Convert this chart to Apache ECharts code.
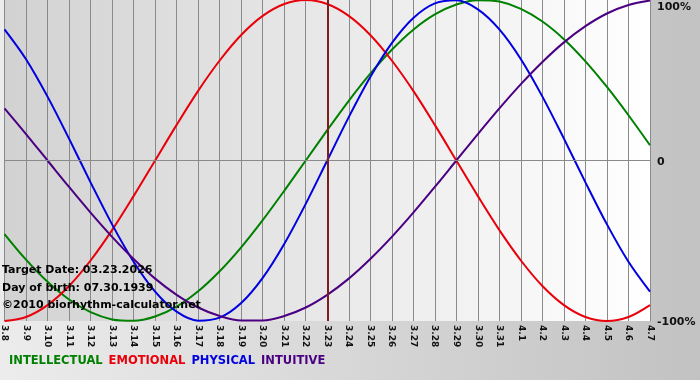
<!DOCTYPE html>
<html>
<head>
<meta charset="utf-8">
<script src="https://cdn.jsdelivr.net/npm/echarts@6/dist/echarts.min.js"></script>
<style>
html,body{margin:0;padding:0;}
#chart{width:700px;height:380px;}
</style>
</head>
<body>
<div id="chart"></div>
<script>
const days = ['3.8','3.9','3.10','3.11','3.12','3.13','3.14','3.15','3.16','3.17','3.18','3.19','3.20','3.21','3.22','3.23','3.24','3.25','3.26','3.27','3.28','3.29','3.30','3.31','4.1','4.2','4.3','4.4','4.5','4.6','4.7'];
const intellectual = [-0.458,-0.618,-0.756,-0.866,-0.945,-0.990,-0.999,-0.972,-0.910,-0.815,-0.690,-0.541,-0.372,-0.189,0,0.189,0.372,0.541,0.690,0.815,0.910,0.972,0.999,0.990,0.945,0.866,0.756,0.618,0.458,0.282,0.095];
const emotional = [-1,-0.975,-0.901,-0.782,-0.623,-0.434,-0.222,0,0.222,0.434,0.623,0.782,0.901,0.975,1,0.975,0.901,0.782,0.623,0.434,0.222,0,-0.222,-0.434,-0.623,-0.782,-0.901,-0.975,-1,-0.975,-0.901];
const physical = [0.817,0.631,0.398,0.136,-0.136,-0.398,-0.631,-0.817,-0.942,-0.998,-0.979,-0.888,-0.731,-0.520,-0.270,0,0.270,0.520,0.731,0.888,0.979,0.998,0.942,0.817,0.631,0.398,0.136,-0.136,-0.398,-0.631,-0.817];
const intuitive = [0.325,0.165,0,-0.165,-0.325,-0.476,-0.614,-0.736,-0.837,-0.916,-0.969,-0.997,-0.997,-0.969,-0.916,-0.837,-0.736,-0.614,-0.476,-0.325,-0.165,0,0.165,0.325,0.476,0.614,0.736,0.837,0.916,0.969,0.997];
const targetDay = '3.23';
const infoLines = ['Target Date: 03.23.2026', 'Day of birth: 07.30.1939', '\u00a92010 biorhythm-calculator.net'];
const yLabels = {'1':'100%','0':'0','-1':'-100%'};

const chart = echarts.init(document.getElementById('chart'));
const font = '"DejaVu Sans", Verdana, sans-serif';
function mk(name, data, color) {
  return {
    name: name, type: 'line', data: data, smooth: 0.33, showSymbol: false,
    lineStyle: {color: color, width: 2}, itemStyle: {color: color}
  };
}
const series = [
  mk('INTELLECTUAL', intellectual, '#008000'),
  mk('EMOTIONAL', emotional, '#e8000b'),
  mk('PHYSICAL', physical, '#0000e0'),
  mk('INTUITIVE', intuitive, '#4b0082')
];
series[0].markLine = {
  symbol: 'none', silent: true, label: {show: false}, animation: false,
  data: [
    {yAxis: 0, lineStyle: {color: '#8a8a8a', width: 1, type: 'solid'}},
    {xAxis: targetDay, lineStyle: {color: '#7a1e1e', width: 2, type: 'solid'}}
  ]
};
chart.setOption({
  animation: false,
  backgroundColor: new echarts.graphic.LinearGradient(0, 0, 1, 0, [
    {offset: 0, color: '#ececec'}, {offset: 1, color: '#c2c2c2'}
  ]),
  grid: {
    left: 0, right: 50, top: 0, bottom: 59, containLabel: false,
    show: true, borderWidth: 0,
    backgroundColor: new echarts.graphic.LinearGradient(0, 0, 1, 0, [
      {offset: 0, color: '#d2d2d2'}, {offset: 1, color: '#ffffff'}
    ])
  },
  legend: {
    left: 3, top: 355, padding: 0, itemWidth: 0, itemHeight: 0, itemGap: 0, selectedMode: false,
    textStyle: {fontFamily: font, fontWeight: 'bold', fontSize: 11.5},
    data: [
      {name: 'INTELLECTUAL', textStyle: {color: '#008000'}},
      {name: 'EMOTIONAL', textStyle: {color: '#e8000b'}},
      {name: 'PHYSICAL', textStyle: {color: '#0000e0'}},
      {name: 'INTUITIVE', textStyle: {color: '#4b0082'}}
    ]
  },
  xAxis: {
    type: 'category', data: days, boundaryGap: false,
    axisLine: {show: true, lineStyle: {color: '#8a8a8a'}},
    axisTick: {show: true, interval: 0, length: 4, lineStyle: {color: '#8a8a8a'}},
    splitLine: {show: true, interval: 0, lineStyle: {color: '#8a8a8a', width: 1}},
    axisLabel: {interval: 0, rotate: -90, margin: 4, color: '#111', fontFamily: font, fontWeight: 'bold', fontSize: 9}
  },
  yAxis: {
    type: 'value', min: -1, max: 1, interval: 1, position: 'right',
    axisLine: {show: true, lineStyle: {color: '#8a8a8a'}},
    axisTick: {show: false},
    splitLine: {show: false},
    axisLabel: {
      margin: 7, color: '#111', fontFamily: font, fontWeight: 'bold', fontSize: 11,
      formatter: function (v) {
        const t = yLabels[String(v)];
        if (v === 1) return '{a|' + t + '}';
        if (v === 0) return '{b|' + t + '}';
        return '{c|' + t + '}';
      },
      rich: {
        a: {padding: [14, 0, 0, 0], fontFamily: font, fontWeight: 'bold', fontSize: 11, color: '#111'},
        b: {padding: [3, 0, 0, 0], fontFamily: font, fontWeight: 'bold', fontSize: 11, color: '#111'},
        c: {padding: [2, 0, 0, 0], fontFamily: font, fontWeight: 'bold', fontSize: 11, color: '#111'}
      }
    }
  },
  graphic: infoLines.map(function (s, i) {
    return {
      type: 'text', left: 2, top: 265 + i * 17.5, silent: true, z: 100,
      style: {text: s, fill: '#000', font: 'bold 11px ' + font}
    };
  }),
  series: series
});
</script>
</body>
</html>
